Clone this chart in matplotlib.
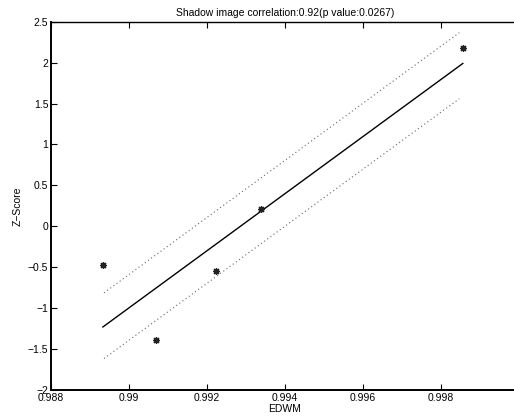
import matplotlib
matplotlib.use("Agg")
import matplotlib.pyplot as plt

plt.rcParams['font.family'] = ['Liberation Sans', 'DejaVu Sans']

# data points (EDWM vs Z-Score)
edwm = [0.98933, 0.99069, 0.99222, 0.99338, 0.99856]
zscore = [-0.474, -1.383, -0.551, 0.21, 2.178]

# regression line and confidence bounds (endpoints)
fit_x = [0.98933, 0.99856]
fit_y = [-1.23, 1.99]
band_x = [0.98936, 0.99847]
upper_y = [-0.813, 2.366]
lower_y = [-1.615, 1.559]

xticks = [0.988, 0.99, 0.992, 0.994, 0.996, 0.998]
yticks = [-2, -1.5, -1, -0.5, 0, 0.5, 1, 1.5, 2, 2.5]

fig = plt.figure(figsize=(5.14, 4.19), dpi=100)
ax = fig.add_axes([51 / 514, 29 / 419, 468 / 514, 368.3 / 419])

ax.plot(fit_x, fit_y, color='black', lw=1.0)
ax.plot(band_x, upper_y, color='#666666', lw=0.8, ls=(0, (1, 2.5)))
ax.plot(band_x, lower_y, color='#666666', lw=0.8, ls=(0, (1, 2.5)))
ax.plot(edwm, zscore, ls='none', marker=(8, 2, 0), ms=5, mew=0.9, color='#222222')

ax.set_xlim(0.988, 1.0)
ax.set_ylim(-2, 2.5)
ax.set_xticks(xticks)
ax.set_xticklabels(['0.988', '0.99', '0.992', '0.994', '0.996', '0.998'])
ax.set_yticks(yticks)
ax.set_yticklabels(['\u22122', '\u22121.5', '\u22121', '\u22120.5', '0', '0.5', '1', '1.5', '2', '2.5'])
ax.tick_params(direction='in', length=4, width=0.8, labelsize=7.5, top=True, right=False, pad=2)

for s in ['left', 'bottom']:
    ax.spines[s].set_linewidth(1.4)
ax.spines['top'].set_linewidth(1.0)
ax.spines['right'].set_visible(False)

ax.set_title('Shadow image correlation:0.92(p value:0.0267)', fontsize=7.5, pad=4)
ax.set_xlabel('EDWM', fontsize=7.5, labelpad=1)
ax.set_ylabel('Z\u2212Score', fontsize=7.5, labelpad=4)

fig.savefig('out.png', dpi=100)
